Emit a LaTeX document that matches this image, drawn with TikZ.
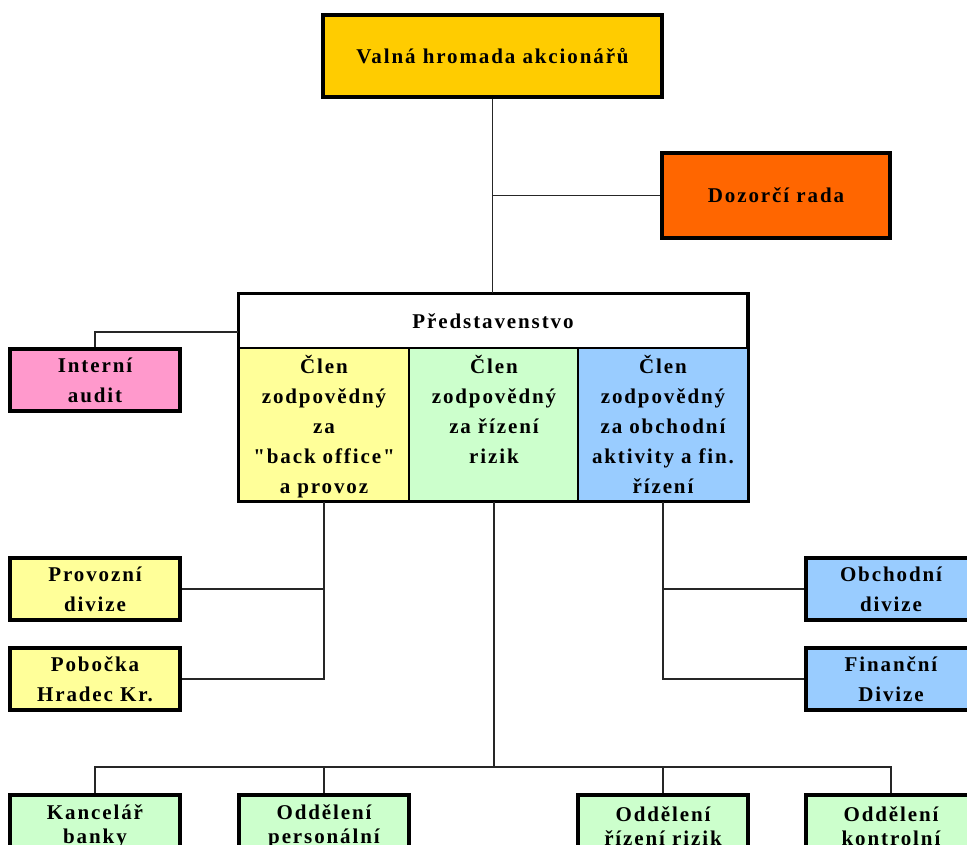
\documentclass[tikz,border=0pt]{standalone}
\usepackage{fontspec}
\setmainfont{Liberation Serif}[LetterSpace=9, Ligatures=TeXOff]
\definecolor{cgold}{HTML}{FFCC00}
\definecolor{corange}{HTML}{FF6600}
\definecolor{cpink}{HTML}{FF99CC}
\definecolor{cyellow}{HTML}{FFFF99}
\definecolor{cgreen}{HTML}{CCFFCC}
\definecolor{cblue}{HTML}{99CCFF}
\begin{document}
\begin{tikzpicture}[x=1pt,y=-1pt,
  box/.style={draw=black, line width=3.2pt, inner sep=0pt, align=center,
    font=\bfseries\fontsize{21}{30}\selectfont},
  lowbox/.style={box, font=\bfseries\fontsize{21}{24}\selectfont},
  col/.style={draw=black, line width=1.3pt, inner sep=0pt, minimum width=170pt, minimum height=153pt},
  coltext/.style={anchor=base, text width=168pt, align=center, inner sep=0pt,
    font=\bfseries\fontsize{21}{30}\selectfont},
  conn/.style={draw=black!85, line width=1.4pt}]
\useasboundingbox (0,0) rectangle (967,844);
\clip (0,0) rectangle (967,844);
% top
\node[box, fill=cgold, minimum width=339pt, minimum height=82pt] (vh) at (492.5,56) {Valná hromada akcionářů};
\node[box, fill=corange, minimum width=228pt, minimum height=85pt] (dr) at (776,195.5) {Dozorčí rada};
% board
\node[draw=black, line width=1.3pt, fill=white, inner sep=0pt, minimum width=508pt, minimum height=54pt,
  font=\bfseries\fontsize{21}{30}\selectfont] (pr) at (493,321) {Představenstvo};
\node[col, fill=cyellow] (c1) at (324,424.5) {};
\node[col, fill=cgreen] (c2) at (494,424.5) {};
\node[col, fill=cblue] (c3) at (663,424.5) {};
\draw[line width=3.2pt] (pr.north west) rectangle (c3.south east);
\node[coltext] (t1) at (324,373) {Člen\\zodpovědný\\za\\"back office"\\a provoz};
\node[coltext] (t2) at (494,373) {Člen\\zodpovědný\\za řízení\\rizik};
\node[coltext] (t3) at (663,373) {Člen\\zodpovědný\\za obchodní\\aktivity a fin.\\řízení};
% side boxes
\node[box, fill=cpink, minimum width=170pt, minimum height=62pt] (ia) at (95,380) {Interní\\audit};
\node[box, fill=cyellow, minimum width=170pt, minimum height=62pt] (pv) at (95,589) {Provozní\\divize};
\node[box, fill=cyellow, minimum width=170pt, minimum height=62pt] (pb) at (95,679) {Pobočka\\Hradec Kr.};
\node[box, fill=cblue, minimum width=170pt, minimum height=62pt] (ob) at (891,589) {Obchodní\\divize};
\node[box, fill=cblue, minimum width=170pt, minimum height=62pt] (fd) at (891,679) {Finanční\\Divize};
% bottom boxes
\node[lowbox, fill=cgreen, minimum width=170pt, minimum height=62pt] (kb) at (95,826) {Kancelář\\banky};
\node[lowbox, fill=cgreen, minimum width=170pt, minimum height=62pt] (op) at (324,826) {Oddělení\\personální};
\node[lowbox, fill=cgreen, minimum width=170pt, minimum height=62pt] (orr) at (663,826) {Oddělení\\řízení rizik};
\node[lowbox, fill=cgreen, minimum width=170pt, minimum height=62pt] (ko) at (891,826) {Oddělení\\kontrolní};
% connectors
\draw[conn] (vh.south) -- (vh.south |- pr.north);
\draw[conn] (dr.west) -- (dr.west -| vh.south);
\draw[conn] (ia.north) |- ([yshift=-11pt]pr.west);
\draw[conn] (pv.east) -- (pv.east -| c1.south);
\draw[conn] (c1.south) |- (pb.east);
\draw[conn] (ob.west) -- (ob.west -| c3.south);
\draw[conn] (c3.south) |- (fd.west);
\coordinate (bus) at (494,767);
\draw[conn] (c2.south) -- (bus);
\draw[conn] (kb.north) |- (bus) -| (ko.north);
\draw[conn] (op.north) -- (op.north |- bus);
\draw[conn] (orr.north) -- (orr.north |- bus);
\end{tikzpicture}
\end{document}
